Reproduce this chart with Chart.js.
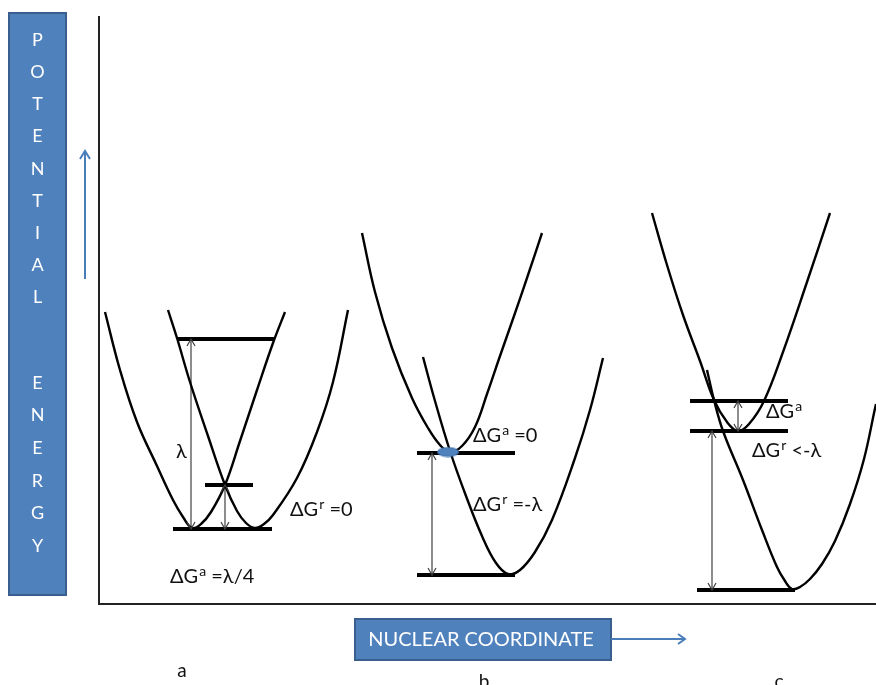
<!DOCTYPE html>
<html>
<head>
<meta charset="utf-8">
<script src="https://cdn.jsdelivr.net/npm/chart.js@4.4.1/dist/chart.umd.min.js"></script>
<style>
  html, body { margin: 0; padding: 0; background: #fff; overflow: hidden; }
  #wrap { width: 876px; height: 685px; position: relative; }
</style>
</head>
<body>
<div id="wrap"><canvas id="marcus"></canvas></div>
<script>
// nuclear coordinate (x) / potential energy (y)
const curveA_reactant = [[105,292],[120,234],[137,182],[157,138],[173,104],[183,87],[192,76],[201,80],[211,92],[225,119],[240,163],[257,214],[273,261],[285,292]];
const curveA_product  = [[168,294],[177,266],[190,222],[208,168],[225,119],[237,93],[246,81],[255,76],[264,80],[273,89],[297,126],[317,172],[333,222],[348,294]];
const curveB_reactant = [[362,371],[375,312],[392,256],[412,206],[428,176],[440,159],[450,152],[462,158],[475,177],[487,210],[500,248],[514,288],[528,329],[542,371]];
const curveB_product  = [[423,247],[435,203],[450,153],[466,108],[482,68],[496,41],[508,30],[520,34],[535,52],[552,84],[575,146],[590,194],[603,246]];
const curveC_reactant = [[652,391],[667,339],[683,289],[700,243],[714,204],[727,182],[738,173],[749,180],[764,203],[783,252],[807,322],[830,391]];
const curveC_product  = [[707,234],[714,204],[723,173],[743,124],[762,74],[777,37],[785,23],[792,15],[800,17],[810,25],[822,40],[835,63],[850,100],[864,145],[876,200],[880,215]];

// energy levels: [x start, x end, energy]
const levels = [[177,275,265],[205,253,119],[173,272,75],[417,515,151],[417,515,29],[690,788,203],[690,788,173],[697,795,14]];
// double arrows: [x, energy from, energy to]
const gaps = [[191,75,265],[225,75,119],[432,29,151],[738,173,203],[712,14,173]];
// crossing point marker in panel b
const crossing = [[448,152]];

// text labels: [x left, energy, text] ; ^ marks a superscript letter
const notes = [
  [176,152,'λ'],
  [290,94,'ΔG^r =0'],
  [170,27,'ΔG^a =λ/4'],
  [473,168,'ΔG^a =0'],
  [473,99,'ΔG^r =-λ'],
  [766,192,'ΔG^a'],
  [752,153,'ΔG^r <-λ']
];
const panelNames = ['a','b','c'];
const panelX = [182,484,779];

const FONT = 'Lato, "Open Sans", sans-serif';

const toPts = arr => arr.map(p => ({x: p[0], y: p[1]}));

// small blue ellipse used as point style
const dot = document.createElement('canvas');
dot.width = 24; dot.height = 11;
(() => {
  const c = dot.getContext('2d');
  c.fillStyle = '#4F81BD';
  c.strokeStyle = '#3E70AC';
  c.lineWidth = 1;
  c.beginPath();
  c.ellipse(12, 5.5, 10.5, 4.5, 0, 0, Math.PI * 2);
  c.fill(); c.stroke();
})();

const datasets = [];
datasets.push({ data: toPts(crossing), showLine: false, pointStyle: dot, pointRadius: 6, order: -1 });
[curveA_reactant, curveA_product, curveB_reactant, curveB_product, curveC_reactant, curveC_product].forEach(c => {
  datasets.push({ data: toPts(c), showLine: true, borderColor: '#000', borderWidth: 2.4,
    pointRadius: 0, tension: 0.4, order: 1 });
});
levels.forEach(l => {
  datasets.push({ data: [{x: l[0], y: l[2]}, {x: l[1], y: l[2]}], showLine: true,
    borderColor: '#000', borderWidth: 3.8, pointRadius: 0, borderCapStyle: 'butt', order: 2 });
});
gaps.forEach(g => {
  datasets.push({ data: [{x: g[0], y: g[1]}, {x: g[0], y: g[2]}], showLine: true,
    borderColor: '#404040', borderWidth: 1.2, pointRadius: 0, order: 3, arrow: true });
});

function head(ctx, x, y, dir, len, half) {
  ctx.beginPath();
  ctx.moveTo(x - half, y - dir * len);
  ctx.lineTo(x, y);
  ctx.lineTo(x + half, y - dir * len);
  ctx.stroke();
}

function richText(ctx, x, y, text, size) {
  let cx = x;
  for (let i = 0; i < text.length; i++) {
    const ch = text[i];
    if (ch === '^') {
      const s = text[++i];
      ctx.font = Math.round(size * 0.68) + 'px ' + FONT;
      ctx.fillText(s, cx + 1, y - size * 0.3);
      cx += ctx.measureText(s).width + 1;
    } else {
      ctx.font = size + 'px ' + FONT;
      ctx.fillText(ch, cx, y);
      cx += ctx.measureText(ch).width;
    }
  }
}

const decor = {
  id: 'decor',
  afterDatasetsDraw(chart) {
    const ctx = chart.ctx;
    const xs = chart.scales.x, ys = chart.scales.y;
    ctx.save();
    // arrowheads on the gap arrows
    ctx.strokeStyle = '#404040';
    ctx.lineWidth = 1.2;
    chart.data.datasets.forEach((ds, i) => {
      if (!ds.arrow) return;
      const pts = chart.getDatasetMeta(i).data;
      head(ctx, pts[0].x, pts[0].y, 1, 7, 4);
      head(ctx, pts[1].x, pts[1].y, -1, 7, 4);
    });
    // labels
    ctx.fillStyle = '#111';
    ctx.textBaseline = 'middle';
    ctx.textAlign = 'left';
    notes.forEach(n => richText(ctx, xs.getPixelForValue(n[0]), ys.getPixelForValue(n[1]), n[2], 20));
    ctx.textAlign = 'center';
    ctx.textBaseline = 'alphabetic';
    ctx.font = '19px ' + FONT;
    panelNames.forEach((p, i) => ctx.fillText(p, xs.getPixelForValue(panelX[i]), i === 0 ? 677 : 688));
    ctx.restore();
  },
  beforeDraw(chart) {
    const ctx = chart.ctx;
    ctx.save();
    ctx.fillStyle = '#fff';
    ctx.fillRect(0, 0, chart.width, chart.height);
    // vertical axis banner
    ctx.fillStyle = '#4F81BD';
    ctx.strokeStyle = '#3A5F8E';
    ctx.lineWidth = 2;
    ctx.fillRect(9, 13, 57, 582);
    ctx.strokeRect(9, 13, 57, 582);
    ctx.fillStyle = '#fff';
    ctx.font = '18px ' + FONT;
    ctx.textAlign = 'center';
    ctx.textBaseline = 'middle';
    'POTENTIAL'.split('').forEach((c, i) => ctx.fillText(c, 37.5, 40 + i * 32.2));
    'ENERGY'.split('').forEach((c, i) => ctx.fillText(c, 37.5, 383 + i * 32.6));
    // up arrow
    ctx.strokeStyle = '#4A7EBB';
    ctx.lineWidth = 2;
    ctx.beginPath(); ctx.moveTo(85, 279); ctx.lineTo(85, 151); ctx.stroke();
    head(ctx, 85, 151, -1, 8, 5);
    // horizontal axis banner
    ctx.fillStyle = '#4F81BD';
    ctx.strokeStyle = '#3A5F8E';
    ctx.fillRect(355, 619, 256, 41);
    ctx.strokeRect(355, 619, 256, 41);
    ctx.fillStyle = '#fff';
    ctx.font = '20px ' + FONT;
    ctx.fillText('NUCLEAR COORDINATE', 481, 640);
    ctx.strokeStyle = '#4A7EBB';
    ctx.beginPath(); ctx.moveTo(611, 639); ctx.lineTo(685, 639); ctx.stroke();
    ctx.beginPath(); ctx.moveTo(678, 634); ctx.lineTo(685, 639); ctx.lineTo(678, 644); ctx.stroke();
    ctx.restore();
  }
};

new Chart(document.getElementById('marcus'), {
  type: 'scatter',
  data: { datasets },
  options: {
    responsive: true,
    maintainAspectRatio: false,
    animation: false,
    events: [],
    layout: { autoPadding: false, padding: { left: 99, top: 17, right: 0, bottom: 81 } },
    plugins: { legend: { display: false }, tooltip: { enabled: false } },
    scales: {
      x: { type: 'linear', min: 99, max: 876,
        grid: { display: false, drawTicks: false }, ticks: { display: false },
        border: { display: true, color: '#222', width: 2 } },
      y: { type: 'linear', min: 0, max: 587,
        grid: { display: false, drawTicks: false }, ticks: { display: false },
        border: { display: true, color: '#222', width: 2 } }
    }
  },
  plugins: [decor]
});
</script>
</body>
</html>
